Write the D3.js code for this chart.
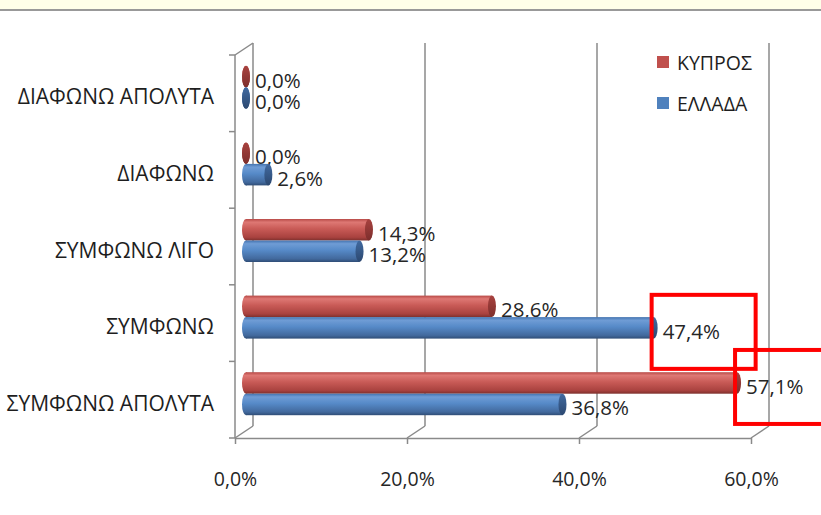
<!DOCTYPE html>
<html>
<head>
<meta charset="utf-8">
<script src="https://cdn.jsdelivr.net/npm/d3@7"></script>
<style>
  body { margin: 0; background: #ffffff; }
  svg { display: block; font-family: "Open Sans", "Noto Sans", sans-serif; }
</style>
</head>
<body>
<div class="canvas"></div>
<script>
var categories = ["ΔΙΑΦΩΝΩ ΑΠΟΛΥΤΑ", "ΔΙΑΦΩΝΩ", "ΣΥΜΦΩΝΩ ΛΙΓΟ", "ΣΥΜΦΩΝΩ", "ΣΥΜΦΩΝΩ ΑΠΟΛΥΤΑ"];
var seriesNames = ["ΚΥΠΡΟΣ", "ΕΛΛΑΔΑ"];
var kyprosValues = [0.0, 0.0, 14.3, 28.6, 57.1];
var elladaValues = [0.0, 2.6, 13.2, 47.4, 36.8];
var xTicks = [0, 20, 40, 60];
// labels boxed in red on the original
var highlighted = [["ΕΛΛΑΔΑ", "ΣΥΜΦΩΝΩ"], ["ΚΥΠΡΟΣ", "ΣΥΜΦΩΝΩ ΑΠΟΛΥΤΑ"]];

(function barchart3d() {
  var width = 821, height = 515;
  var depthX = 18, depthY = -12;
  var barH = 21.5;

  var svg = d3.select(".canvas")
    .append("svg")
    .attr("width", width)
    .attr("height", height);

  var locale = d3.formatLocale({decimal: ",", thousands: ".", grouping: [3], currency: ["", "€"]});
  var fmt = function(v) { return locale.format(".1f")(v) + "%"; };

  // top strip
  svg.append("rect").attr("x", 0).attr("y", 0).attr("width", width).attr("height", 9)
    .attr("fill", "#ffffe9");
  svg.append("rect").attr("x", 0).attr("y", 9).attr("width", width).attr("height", 2)
    .attr("fill", "#999999");

  var x = d3.scaleLinear().domain([0, 60]).range([235, 751]);
  var y = d3.scaleBand().domain(categories).range([55, 438]);

  var rows = categories.map(function(c, i) {
    return {cat: c, values: [
      {name: seriesNames[0], value: kyprosValues[i]},
      {name: seriesNames[1], value: elladaValues[i]}
    ]};
  });

  var colors = {
    "ΚΥΠΡΟΣ": {base: "#c0504d", stops: ["#b84a47", "#de7874", "#c95b57", "#a9423f", "#7e302d"], cap: ["#a8423f", "#7c2e2c"]},
    "ΕΛΛΑΔΑ": {base: "#4f81bd", stops: ["#4474b0", "#6f9cd5", "#568ac8", "#42699d", "#2f4d76"], cap: ["#416aa0", "#2c4870"]}
  };

  var defs = svg.append("defs");
  seriesNames.forEach(function(s, i) {
    var g = defs.append("linearGradient").attr("id", "body" + i)
      .attr("x1", 0).attr("y1", 0).attr("x2", 0).attr("y2", 1);
    [0, 0.15, 0.45, 0.85, 1].forEach(function(o, j) {
      g.append("stop").attr("offset", o).attr("stop-color", colors[s].stops[j]);
    });
    var c = defs.append("linearGradient").attr("id", "cap" + i)
      .attr("x1", 0).attr("y1", 0).attr("x2", 0).attr("y2", 1);
    c.append("stop").attr("offset", 0).attr("stop-color", colors[s].cap[0]);
    c.append("stop").attr("offset", 1).attr("stop-color", colors[s].cap[1]);
  });

  var grid = svg.append("g").attr("stroke", "#8a8a8a").attr("stroke-width", 1.5).attr("fill", "none");

  // back wall gridlines + floor diagonals
  xTicks.forEach(function(t) {
    grid.append("line")
      .attr("x1", x(t) + depthX).attr("y1", 55 + depthY)
      .attr("x2", x(t) + depthX).attr("y2", 438 + depthY);
    grid.append("line")
      .attr("x1", x(t)).attr("y1", 438)
      .attr("x2", x(t) + depthX).attr("y2", 438 + depthY);
  });

  // left wall
  grid.append("line").attr("x1", x(0)).attr("y1", 55).attr("x2", x(0)).attr("y2", 438);
  grid.append("line").attr("x1", x(0)).attr("y1", 55).attr("x2", x(0) + depthX).attr("y2", 55 + depthY);
  var bounds = categories.map(function(c) { return y(c); }).concat([438]);
  bounds.forEach(function(b) {
    grid.append("line").attr("x1", x(0) - 6).attr("y1", b).attr("x2", x(0)).attr("y2", b);
  });

  // bottom axis
  var xAxis = d3.axisBottom(x).tickValues(xTicks).tickFormat(fmt)
    .tickSize(6).tickSizeOuter(0).tickPadding(28);
  var ax = svg.append("g").attr("transform", "translate(0,438)").call(xAxis);
  ax.select(".domain").attr("stroke", "#8a8a8a").attr("stroke-width", 1.5);
  ax.selectAll(".tick line").attr("stroke", "#8a8a8a").attr("stroke-width", 1.5);
  ax.selectAll(".tick text").attr("fill", "#262626")
    .style("font-size", "19.5px").style("font-family", "'Open Sans', sans-serif");

  // category labels
  svg.append("g").selectAll("text")
    .data(categories)
    .enter()
    .append("text")
    .attr("x", 214)
    .attr("y", function(d) { return y(d) + y.bandwidth() / 2 + 3; })
    .attr("text-anchor", "end")
    .attr("dominant-baseline", "central")
    .attr("fill", "#1e1e1e")
    .style("font-size", "21px")
    .text(function(d) { return d; });

  // bars (mid-depth)
  var inner = d3.scaleBand().domain(seriesNames).range([-barH, barH]);
  var rx = 4;
  var groups = svg.append("g").selectAll("g")
    .data(rows)
    .enter()
    .append("g")
    .attr("transform", function(d) {
      return "translate(" + (depthX / 2 + 2) + "," + (y(d.cat) + y.bandwidth() / 2 + depthY / 2) + ")";
    });

  var bars = groups.selectAll(".bar")
    .data(function(d) { return d.values.map(function(v) { v.cat = d.cat; return v; }); })
    .enter()
    .append("g")
    .attr("class", "bar");

  bars.append("ellipse")
    .attr("cx", x(0))
    .attr("cy", function(d) { return inner(d.name) + barH / 2; })
    .attr("rx", rx).attr("ry", barH / 2)
    .attr("fill", function(d) { return "url(#body" + seriesNames.indexOf(d.name) + ")"; });
  bars.append("rect")
    .attr("x", x(0))
    .attr("y", function(d) { return inner(d.name); })
    .attr("width", function(d) { return x(d.value) - x(0); })
    .attr("height", barH)
    .attr("fill", function(d) { return "url(#body" + seriesNames.indexOf(d.name) + ")"; });
  bars.append("ellipse")
    .attr("cx", function(d) { return x(d.value); })
    .attr("cy", function(d) { return inner(d.name) + barH / 2; })
    .attr("rx", rx).attr("ry", barH / 2)
    .attr("fill", function(d) { return "url(#cap" + seriesNames.indexOf(d.name) + ")"; });

  bars.append("text")
    .attr("x", function(d) { return x(d.value) + rx + 5; })
    .attr("y", function(d) { return inner(d.name) + barH / 2 + 3; })
    .attr("dominant-baseline", "central")
    .attr("fill", "#262626")
    .style("font-size", "20.5px")
    .text(function(d) { return fmt(d.value); });

  // red highlight boxes around two labels
  bars.filter(function(d) {
      return highlighted.some(function(h) { return h[0] === d.name && h[1] === d.cat; });
    })
    .append("rect")
    .attr("x", function(d) { return x(d.value) + rx - 6; })
    .attr("y", function(d) { return inner(d.name) + barH / 2 + 3 - 36; })
    .attr("width", 104)
    .attr("height", 74)
    .attr("fill", "none")
    .attr("stroke", "#ff0000")
    .attr("stroke-width", 4);

  // legend
  var legend = svg.append("g").selectAll("g")
    .data(seriesNames)
    .enter()
    .append("g")
    .attr("transform", function(d, i) { return "translate(657," + (56 + i * 41) + ")"; });
  legend.append("rect").attr("width", 12).attr("height", 12)
    .attr("fill", function(d) { return colors[d].base; });
  legend.append("text").attr("x", 20).attr("y", 6)
    .attr("dominant-baseline", "central")
    .attr("fill", "#1e1e1e")
    .style("font-size", "19.5px")
    .text(function(d) { return d; });
})();
</script>
</body>
</html>
